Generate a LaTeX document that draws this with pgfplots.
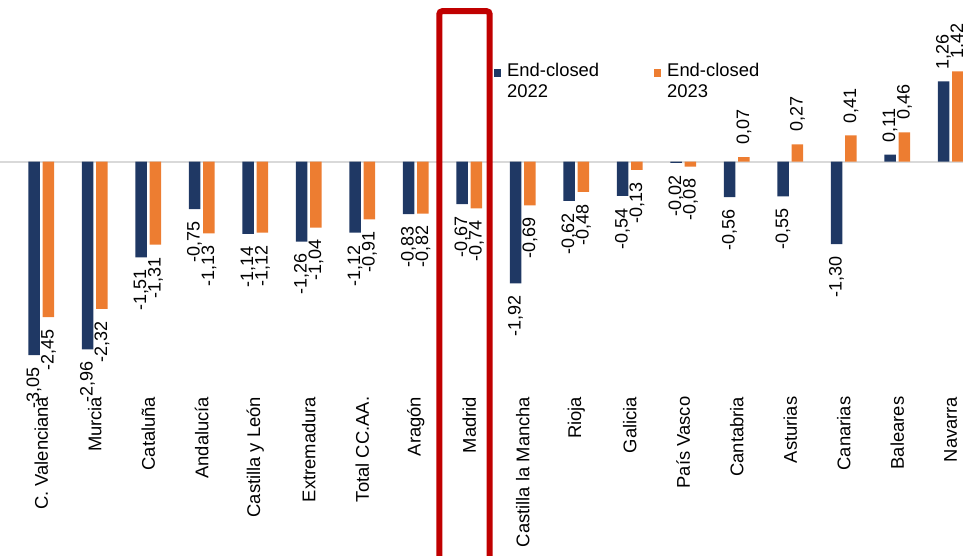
\documentclass[border=0pt]{standalone}
\usepackage{pgfplots}
\usepackage{pgfplotstable}
\pgfplotsset{compat=1.18}
\usepackage{fontspec}
\setmainfont{Liberation Sans}
\definecolor{navy}{HTML}{1F3864}
\definecolor{orng}{HTML}{ED7D31}
\definecolor{redbox}{HTML}{C00000}
\definecolor{zline}{HTML}{D9D9D9}
\pgfplotstableread{
x a b
0 -3.05 -2.45
1 -2.96 -2.32
2 -1.51 -1.31
3 -0.75 -1.13
4 -1.14 -1.12
5 -1.26 -1.04
6 -1.12 -0.91
7 -0.83 -0.82
8 -0.67 -0.74
9 -1.92 -0.69
10 -0.62 -0.48
11 -0.54 -0.13
12 -0.02 -0.08
13 -0.56 0.07
14 -0.55 0.27
15 -1.30 0.41
16 0.11 0.46
17 1.26 1.42
}\datatable
\begin{document}
\begin{tikzpicture}
\begin{axis}[
  name=ax,
  scale only axis,
  width=481.5pt, height=191.875pt,
  xmin=-0.771, xmax=17.229,
  ymin=-3.5, ymax=2.543,
  axis line style={draw=none},
  major tick length=0pt,
  ytick=\empty,
  xtick={0,...,17},
  xticklabels={C. Valenciana, Murcia, Cataluña, Andalucía, Castilla y León, Extremadura, Total CC.AA., Aragón, Madrid, Castilla la Mancha, Rioja, Galicia, País Vasco, Cantabria, Asturias, Canarias, Baleares, Navarra},
  xticklabel style={rotate=90, anchor=east, inner xsep=6.3pt, inner ysep=0pt, font=\fontsize{9.2}{11}\selectfont},
  clip=false,
  ybar, bar width=0.215,
  legend style={draw=none, fill=none, inner sep=0pt, at={(axis cs:8.449,1.559)}, anchor=north west,
    font=\fontsize{9.2}{10.75}\selectfont, nodes={align=left, inner sep=0pt},
    /tikz/every odd column/.append style={column sep=3pt},
    /tikz/every even column/.append style={column sep=27.25pt}},
  legend columns=2,
  legend cell align=left,
  legend image code/.code={\fill[#1] (0pt,2.6pt) rectangle (3.75pt,6.35pt);},
  visualization depends on={rawy \as \rawy},
  every node near coord/.append style={rotate=90, anchor={\ifdim\rawy pt<0pt east\else west\fi}, inner xsep=6pt, inner ysep=0pt, font=\fontsize{9}{11}\selectfont, text=black},
]
\draw[zline, line width=1pt] (axis cs:-1,0) -- (axis cs:18,0);
\addplot[fill=navy, draw=none, bar shift=-0.135,
  nodes near coords={\pgfmathprintnumber[fixed,fixed zerofill,precision=2,use comma,assume math mode=true]{\pgfplotspointmeta}}]
  table[x=x,y=a] {\datatable};
\addlegendentry{End-closed\\2022}
\addplot[fill=orng, draw=none, bar shift=0.135,
  nodes near coords={\pgfmathprintnumber[fixed,fixed zerofill,precision=2,use comma,assume math mode=true]{\pgfplotspointmeta}}]
  table[x=x,y=b] {\datatable};
\addlegendentry{End-closed\\2023}
\draw[redbox, line width=3pt, rounded corners=1.5pt] (axis cs:7.440,-9) rectangle (axis cs:8.382,2.367);
\end{axis}
\pgfresetboundingbox
\path[use as bounding box] ([yshift=-85.625pt]ax.south west) rectangle (ax.north east);
\end{tikzpicture}
\end{document}
